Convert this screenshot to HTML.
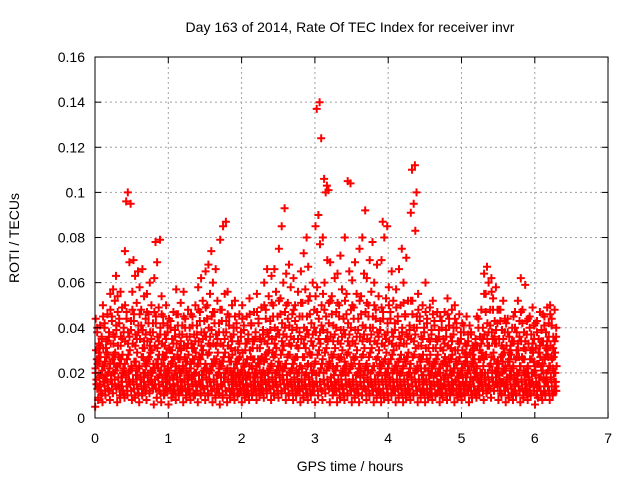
<!DOCTYPE html>
<html><head><meta charset="utf-8"><style>
html,body{margin:0;padding:0;background:#fff;}
svg text{font-family:"Liberation Sans",sans-serif;font-size:14px;fill:#000;}
</style></head><body>
<svg id="chart" width="640" height="480" xmlns="http://www.w3.org/2000/svg">
<rect width="640" height="480" fill="#fff"/>
<g id="grid"></g>
<g id="pts"></g>
<rect x="95" y="57" width="513" height="361" fill="none" stroke="#000" stroke-width="1"/>
<g id="ticks"></g>
<text x="350" y="32" text-anchor="middle">Day 163 of 2014, Rate Of TEC Index for receiver invr</text>
<text x="350" y="471" text-anchor="middle">GPS time / hours</text>
<text transform="translate(19,238) rotate(-90)" text-anchor="middle">ROTI / TECUs</text>
</svg>
<script>
const xTicks=[0,1,2,3,4,5,6,7];
const yTicks=[0,0.02,0.04,0.06,0.08,0.1,0.12,0.14,0.16];
const yTickLabels=["0","0.02","0.04","0.06","0.08","0.1","0.12","0.14","0.16"];
const binWidth=0.1;
const roti=[
[5,8,12,15,18,21,24,27,30,33,36,40,41,20,14,10,26,31],
[7,10,13,16,19,22,25,28,31,34,38,42,46,50,17,12,23,29],
[8,11,14,17,20,23,26,29,33,37,41,45,52,55,57,63,19,24],
[7,10,12,15,18,21,24,28,32,36,40,44,49,54,56,22,27,14],
[9,12,15,18,20,23,26,30,34,38,43,47,69,74,100,95,96,17],
[8,10,13,16,19,22,25,29,33,37,41,46,51,56,63,65,70,21],
[7,11,14,17,20,23,27,31,35,39,44,48,54,58,66,24,18,13],
[8,12,15,18,21,24,27,30,34,38,42,46,50,55,60,20,26,16],
[6,9,12,15,18,21,24,28,32,36,40,45,49,62,69,79,78,22],
[7,10,13,16,19,22,26,29,33,37,41,45,50,54,23,17,28,12],
[6,9,12,15,18,21,24,27,31,35,39,43,47,20,25,14,30,11],
[8,11,14,17,20,23,26,30,33,37,41,46,51,57,22,16,28,13],
[7,10,13,16,19,22,25,28,32,36,40,44,48,56,21,18,27,12],
[8,11,14,17,20,23,26,29,33,37,41,45,50,24,19,15,31,10],
[7,10,13,16,19,22,26,30,34,38,43,47,52,58,62,21,27,14],
[8,11,14,17,20,24,28,32,36,40,45,50,55,65,68,74,22,16],
[7,10,13,16,19,22,25,29,33,37,42,47,52,60,66,20,26,13],
[6,9,12,15,18,21,25,29,33,38,43,48,55,79,85,87,23,16],
[7,10,13,16,19,22,25,28,32,36,40,45,50,56,21,17,27,12],
[8,11,13,16,18,21,24,27,30,34,38,42,46,52,20,15,25,11],
[7,10,12,15,17,20,23,26,29,33,37,41,45,50,19,14,24,11],
[8,10,13,15,18,20,23,26,30,34,38,42,47,53,22,16,27,12],
[8,11,13,16,18,21,24,27,31,35,39,44,49,55,21,15,26,13],
[9,12,14,17,20,23,26,30,34,38,43,48,54,60,66,22,28,16],
[8,11,14,17,20,23,27,31,35,40,45,50,56,63,66,21,29,15],
[9,12,15,18,21,24,28,32,37,42,47,53,60,75,85,93,23,17],
[8,11,14,17,20,24,28,32,36,41,46,51,58,64,68,22,27,15],
[8,11,14,17,20,23,27,31,35,40,45,50,56,62,21,16,26,13],
[7,10,13,16,19,23,27,31,35,40,45,51,57,65,73,80,22,14],
[8,11,14,17,20,24,28,32,37,42,48,54,60,67,23,15,29,12],
[7,10,13,16,20,24,28,33,38,44,50,58,77,85,90,124,137,140],
[8,11,14,17,21,25,29,34,39,45,51,60,70,80,100,101,106,103],
[7,10,13,16,19,23,27,31,36,41,47,54,62,69,22,15,28,12],
[7,10,13,16,19,22,26,30,34,39,44,50,57,64,72,21,27,14],
[8,11,14,17,20,24,28,32,37,42,48,55,65,80,105,104,23,15],
[7,10,13,16,19,22,26,30,34,39,44,49,55,61,69,20,27,13],
[7,10,13,16,19,23,27,31,36,41,47,54,64,75,80,92,22,14],
[8,11,14,17,20,23,27,31,35,40,45,50,56,62,70,78,21,15],
[7,10,13,16,19,22,26,30,34,38,43,48,54,60,68,24,17,12],
[7,10,13,16,19,22,25,29,33,37,42,47,53,70,80,85,87,20],
[8,11,14,17,20,23,26,30,34,38,42,47,52,58,65,22,16,13],
[7,10,13,16,19,22,25,28,32,36,40,45,50,57,66,75,21,14],
[7,10,13,16,19,22,25,29,33,37,41,46,52,60,71,20,26,12],
[8,11,14,17,20,23,27,31,35,40,45,52,83,91,95,100,110,112],
[7,10,13,16,19,22,25,28,32,36,40,45,50,55,22,16,27,12],
[7,10,13,16,19,22,25,28,31,35,39,44,49,60,21,15,26,11],
[8,11,14,16,19,22,25,28,31,35,39,43,47,52,20,15,24,11],
[7,10,13,15,18,21,24,27,31,35,39,43,47,20,14,25,11,17],
[8,11,13,16,19,22,25,28,32,36,40,44,48,53,21,15,26,12],
[7,10,13,16,18,21,24,27,30,34,38,42,46,50,20,14,25,11],
[8,11,13,16,18,21,24,27,30,33,37,41,45,19,14,23,11,28],
[7,10,12,15,17,20,23,26,29,32,35,38,21,14,25,11,18,30],
[9,12,14,17,20,23,26,29,32,36,40,44,48,22,16,27,13,19],
[8,11,14,17,20,24,28,32,37,42,48,55,60,64,67,23,18,13],
[9,12,15,18,21,25,29,33,38,43,48,53,58,62,26,20,35,15],
[8,11,14,17,20,23,27,31,35,39,44,48,52,22,16,29,12,25],
[7,10,13,16,19,22,25,28,32,36,40,44,21,15,26,11,18,30],
[8,11,14,17,20,23,26,30,34,38,43,47,52,22,16,27,12,19],
[7,10,13,16,19,22,26,30,34,38,43,48,59,62,21,15,27,12],
[8,11,14,17,20,23,26,29,33,37,41,45,49,20,15,25,11,31],
[6,9,12,15,18,21,24,27,31,35,39,43,47,19,14,23,10,29],
[8,11,14,17,20,23,26,30,34,38,42,45,49,21,16,27,12,32],
[8,11,14,17,20,23,26,29,32,36,40,44,48,50,22,16,27,12]
];
const rotiCore=[
[9,13,17,22,11,19,15,25],[10,14,18,23,12,20,16,27],[11,15,19,24,13,21,17,28],[9,13,18,23,11,20,16,26],
[10,14,19,24,12,21,16,28],[9,13,17,22,11,19,15,25],[10,14,18,23,12,20,16,27],[11,15,19,25,13,21,17,29],
[9,13,17,22,11,19,15,26],[10,14,18,24,12,20,16,27],[9,13,17,21,11,19,15,24],[10,14,18,23,12,20,16,26],
[9,13,17,22,11,19,15,25],[10,14,18,22,12,20,16,26],[11,15,19,24,13,21,17,28],[10,14,18,24,12,21,16,29],
[9,13,17,23,11,19,15,26],[10,14,18,24,12,20,16,27],[9,13,17,22,11,19,15,25],[10,14,18,22,12,20,16,26],
[9,13,17,21,11,19,15,24],[10,14,18,23,12,20,16,26],[10,14,18,23,12,20,16,26],[11,15,19,25,13,21,17,29],
[10,14,18,24,12,21,16,28],[11,15,19,25,13,22,17,30],[10,14,19,24,12,21,16,28],[10,14,18,24,12,20,16,27],
[9,13,17,23,11,20,15,27],[10,14,18,24,12,21,16,28],[10,14,19,25,12,22,16,30],[11,15,20,26,13,23,17,31],
[10,14,18,24,12,21,16,28],[9,13,17,23,11,20,15,27],[10,14,19,25,12,22,16,29],[9,13,17,23,11,20,15,27],
[10,14,18,24,12,21,16,28],[10,14,18,24,12,21,16,29],[9,13,17,23,11,20,15,27],[9,13,17,23,11,20,15,26],
[10,14,18,24,12,21,16,28],[9,13,17,23,11,20,15,26],[9,13,17,23,11,20,15,27],[10,14,18,24,12,21,16,28],
[9,13,17,22,11,19,15,26],[9,13,17,22,11,19,15,25],[10,14,18,23,12,20,16,26],[9,13,17,22,11,19,15,25],
[10,14,18,23,12,20,16,26],[9,13,17,22,11,19,15,25],[10,14,18,22,12,20,16,25],[9,12,16,21,11,18,14,24],
[10,14,18,23,12,20,16,26],[11,15,20,26,13,23,17,32],[12,16,21,27,14,24,18,33],[10,14,19,24,12,21,16,28],
[9,13,17,22,11,19,15,25],[10,14,18,23,12,20,16,27],[9,13,17,23,11,20,15,26],[10,14,18,23,12,20,16,26],
[9,12,16,21,10,18,14,24],[10,14,18,24,12,21,16,28],[10,14,18,23,12,20,16,27]
];
const rotiMid=[
[29,35,38,32,44],[31,36,40,34,45],[33,39,43,36,48],[32,38,42,35,47],[33,39,44,36,50],[32,38,43,35,48],
[31,37,41,34,46],[32,38,42,35,47],[31,37,42,34,47],[32,38,42,35,46],[30,36,40,33,44],[31,37,41,34,46],
[31,36,40,33,45],[31,37,41,34,46],[32,38,43,35,48],[33,39,44,36,49],[32,38,42,35,47],[32,38,43,35,48],
[31,37,41,34,46],[30,36,40,33,45],[30,35,39,33,44],[31,36,41,34,46],[31,37,42,34,47],[33,39,44,36,50],
[33,39,45,36,51],[34,40,46,37,52],[33,39,44,36,50],[32,38,43,35,48],[33,39,45,36,51],[34,40,46,37,52],
[35,41,47,38,54],[35,42,48,38,55],[34,40,46,37,52],[33,39,45,36,51],[34,40,46,37,52],[33,39,44,36,50],
[34,40,46,37,52],[34,40,45,37,51],[33,39,44,36,50],[32,38,44,35,49],[33,39,44,36,50],[32,38,43,35,49],
[33,39,45,36,51],[34,40,46,37,52],[32,38,43,35,48],[31,37,42,34,47],[31,36,41,34,46],[30,36,40,33,45],
[31,37,41,34,46],[30,35,40,33,44],[29,34,38,32,42],[28,33,37,31,41],[30,35,40,33,45],[35,41,47,38,55],
[36,42,48,39,56],[32,38,43,35,48],[29,34,38,32,42],[30,36,40,33,45],[31,37,42,34,47],[30,35,40,33,44],
[29,34,38,32,42],[31,36,41,34,46],[31,36,41,34,46]
];
const X0=95,XS=73.3,Y0=418,YS=2256;
function xs(t){return X0+t*XS;}
function ys(v){return Y0-v*YS;}
const NS="http://www.w3.org/2000/svg";
const grid=document.getElementById('grid'),ticks=document.getElementById('ticks'),pts=document.getElementById('pts');
function mk(tag,attrs,parent){const e=document.createElementNS(NS,tag);for(const k in attrs)e.setAttribute(k,attrs[k]);parent.appendChild(e);return e;}
xTicks.forEach(t=>{
  const x=xs(t);
  if(t>0&&t<7){const g=mk('line',{x1:x,y1:57,x2:x,y2:418,stroke:'#a0a0a0','stroke-dasharray':'2,3'},grid);
  
  }
  const a=mk('line',{x1:x,y1:418,x2:x,y2:412,stroke:'#000'},ticks);
  
  
  const b=mk('line',{x1:x,y1:57,x2:x,y2:63,stroke:'#000'},ticks);
  
  
  const l=mk('text',{x:x,y:443,'text-anchor':'middle'},ticks);l.textContent=t;
  
  
});
yTicks.forEach((v,i)=>{
  const y=ys(v);
  if(i>0&&i<yTicks.length-1){const g=mk('line',{x1:95,y1:y,x2:608,y2:y,stroke:'#a0a0a0','stroke-dasharray':'2,3'},grid);
  
  }
  const a=mk('line',{x1:95,y1:y,x2:101,y2:y,stroke:'#000'},ticks);
  
  
  const b=mk('line',{x1:608,y1:y,x2:602,y2:y,stroke:'#000'},ticks);
  
  
  const l=mk('text',{x:85,y:y+5,'text-anchor':'end'},ticks);l.textContent=yTickLabels[i];
  
  
});
let d='';
function addBins(data,shift){
  data.forEach((bin,i)=>{
    const n=bin.length;
    bin.forEach((m,j)=>{
      const slot=((j*7+shift)%n+0.5)/n;
      const t=i*binWidth+slot*binWidth;
      const x=xs(t),y=ys(m/1000);
      d+=`M${(x-4).toFixed(1)} ${y.toFixed(1)}h8M${x.toFixed(1)} ${(y-4).toFixed(1)}v8`;
    });
  });
}
addBins(roti,0);
addBins(rotiCore,3);
addBins(rotiMid,2);
const p=mk('path',{d:d,stroke:'#ff0000','stroke-width':2,fill:'none'},pts);


</script>
</body></html>
